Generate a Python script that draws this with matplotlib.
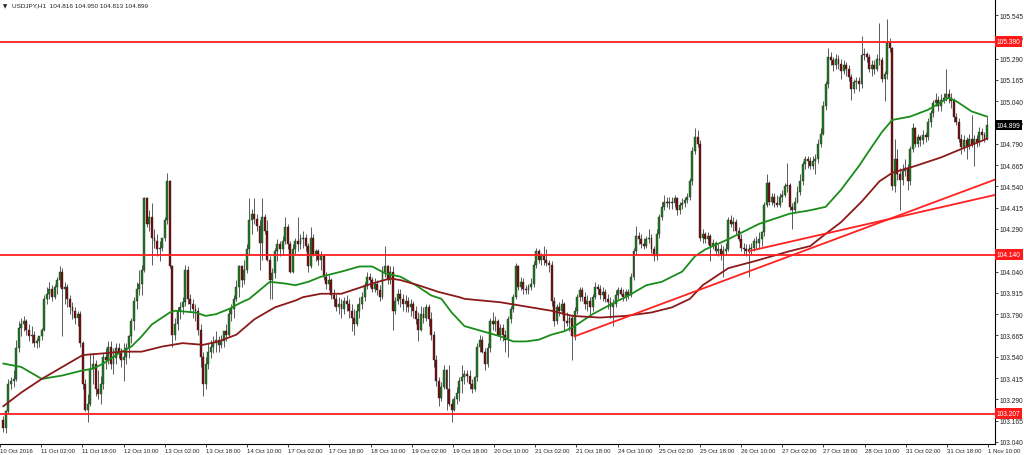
import numpy as np
import matplotlib
matplotlib.use("Agg")
import matplotlib.pyplot as plt

plt.rcParams['font.family'] = ['Liberation Sans', 'DejaVu Sans']

# USDJPY H1, 10 Oct 2016 - 1 Nov 2016
first_open = 103.17
closes = [
    103.12, 103.22, 103.38, 103.40, 103.41, 103.59, 103.71, 103.73, 103.75, 103.70, 103.66, 103.67, 103.62, 103.63, 103.66, 103.70,
    103.88, 103.91, 103.94, 103.89, 103.95, 103.99, 104.04, 103.94, 103.95, 103.88, 103.83, 103.81, 103.77, 103.79, 103.62, 103.38,
    103.23, 103.26, 103.47, 103.50, 103.35, 103.32, 103.38, 103.54, 103.52, 103.60, 103.50, 103.53, 103.59, 103.56, 103.52, 103.54,
    103.59, 103.66, 103.75, 103.87, 103.94, 103.97, 104.05, 104.47, 104.32, 104.36, 104.24, 104.22, 104.17, 104.18, 104.24, 104.34,
    104.57, 104.07, 103.67, 103.73, 103.81, 103.83, 103.86, 104.05, 103.88, 103.85, 103.82, 103.81, 103.70, 103.54, 103.38, 103.50,
    103.57, 103.60, 103.62, 103.64, 103.61, 103.63, 103.69, 103.67, 103.79, 103.82, 103.88, 103.95, 104.07, 103.99, 104.05, 104.17,
    104.34, 104.38, 104.35, 104.31, 104.21, 104.36, 104.28, 104.11, 103.99, 104.03, 104.16, 104.20, 104.17, 104.22, 104.30, 104.20,
    104.04, 104.17, 104.22, 104.20, 104.23, 104.24, 104.19, 104.07, 104.24, 104.14, 104.16, 104.11, 104.13, 104.01, 103.97, 103.99,
    103.90, 103.88, 103.83, 103.85, 103.82, 103.87, 103.85, 103.81, 103.77, 103.73, 103.81, 103.85, 103.89, 103.96, 104.01, 103.99,
    103.94, 103.97, 103.93, 103.89, 104.04, 104.07, 103.99, 104.04, 103.81, 103.87, 103.91, 103.88, 103.85, 103.87, 103.83, 103.85,
    103.81, 103.76, 103.70, 103.79, 103.77, 103.83, 103.76, 103.67, 103.52, 103.40, 103.30, 103.36, 103.46, 103.35, 103.26, 103.23,
    103.29, 103.33, 103.40, 103.42, 103.44, 103.43, 103.38, 103.35, 103.42, 103.60, 103.64, 103.57, 103.50, 103.59, 103.75, 103.73,
    103.75, 103.67, 103.71, 103.67, 103.64, 103.76, 103.82, 103.89, 104.07, 103.95, 103.98, 103.94, 103.93, 103.95, 103.97, 104.08,
    104.16, 104.11, 104.13, 104.11, 104.09, 104.08, 103.87, 103.75, 103.83, 103.81, 103.85, 103.75, 103.74, 103.77, 103.66, 103.81,
    103.89, 103.93, 103.89, 103.85, 103.87, 103.83, 103.89, 103.95, 103.94, 103.90, 103.92, 103.88, 103.86, 103.83, 103.85, 103.90,
    103.93, 103.91, 103.89, 103.92, 103.90, 104.01, 104.16, 104.25, 104.23, 104.20, 104.19, 104.23, 104.24, 104.17, 104.13, 104.26,
    104.36, 104.42, 104.45, 104.44, 104.45, 104.44, 104.47, 104.40, 104.43, 104.44, 104.46, 104.48, 104.57, 104.75, 104.83, 104.79,
    104.24, 104.26, 104.23, 104.25, 104.19, 104.21, 104.16, 104.17, 104.14, 104.16, 104.17, 104.34, 104.32, 104.33, 104.28, 104.23,
    104.18, 104.17, 104.16, 104.17, 104.18, 104.22, 104.21, 104.23, 104.27, 104.43, 104.56, 104.45, 104.48, 104.44, 104.43, 104.48,
    104.49, 104.54, 104.55, 104.42, 104.40, 104.45, 104.51, 104.57, 104.67, 104.70, 104.69, 104.66, 104.69, 104.70, 104.79, 104.85,
    105.01, 105.14, 105.30, 105.28, 105.25, 105.29, 105.26, 105.22, 105.25, 105.23, 105.18, 105.11, 105.15, 105.16, 105.14, 105.31,
    105.32, 105.30, 105.23, 105.25, 105.23, 105.29, 105.28, 105.17, 105.20, 105.38, 105.35, 104.54, 104.70, 104.61, 104.58, 104.63,
    104.65, 104.57, 104.76, 104.88, 104.79, 104.83, 104.81, 104.84, 104.83, 104.92, 104.97, 105.03, 105.05, 105.01, 105.05, 105.06,
    105.08, 105.06, 105.04, 104.95, 104.92, 104.82, 104.77, 104.81, 104.78, 104.82, 104.79, 104.82, 104.80, 104.86, 104.84, 104.816,
    104.899,
]
highs = [
    103.19, 103.23, 103.41, 103.42, 103.46, 103.64, 103.75, 103.77, 103.78, 103.76, 103.73, 103.72, 103.69, 103.65, 103.66, 103.71,
    103.90, 103.95, 103.98, 103.96, 103.97, 104.01, 104.07, 104.06, 103.98, 103.97, 103.90, 103.86, 103.83, 103.81, 103.81, 103.63,
    103.41, 103.32, 103.56, 103.56, 103.52, 103.46, 103.43, 103.56, 103.59, 103.63, 103.63, 103.59, 103.62, 103.62, 103.59, 103.62,
    103.62, 103.67, 103.77, 103.89, 103.98, 104.05, 104.08, 104.48, 104.48, 104.40, 104.44, 104.29, 104.26, 104.22, 104.24, 104.36,
    104.62, 104.58, 104.08, 103.77, 103.83, 103.86, 103.89, 104.08, 104.07, 103.91, 103.88, 103.85, 103.83, 103.73, 103.57, 103.54,
    103.62, 103.64, 103.66, 103.69, 103.66, 103.67, 103.69, 103.73, 103.82, 103.85, 103.90, 103.99, 104.08, 104.08, 104.11, 104.20,
    104.47, 104.41, 104.47, 104.38, 104.34, 104.47, 104.38, 104.34, 104.13, 104.06, 104.18, 104.23, 104.22, 104.25, 104.36, 104.32,
    104.22, 104.20, 104.24, 104.36, 104.26, 104.28, 104.26, 104.21, 104.30, 104.26, 104.17, 104.17, 104.16, 104.14, 104.04, 104.02,
    104.00, 103.94, 103.91, 103.89, 103.88, 103.89, 103.90, 103.88, 103.85, 103.82, 103.85, 103.89, 103.92, 103.98, 104.04, 104.03,
    104.01, 104.00, 103.99, 103.96, 104.07, 104.19, 104.08, 104.07, 104.07, 103.89, 103.94, 103.94, 103.91, 103.90, 103.89, 103.88,
    103.87, 103.84, 103.80, 103.84, 103.83, 103.85, 103.85, 103.80, 103.69, 103.55, 103.42, 103.39, 103.49, 103.47, 103.49, 103.29,
    103.31, 103.36, 103.42, 103.49, 103.46, 103.46, 103.46, 103.41, 103.43, 103.62, 103.67, 103.66, 103.59, 103.62, 103.77, 103.80,
    103.78, 103.76, 103.73, 103.73, 103.70, 103.78, 103.84, 103.91, 104.09, 104.08, 104.01, 104.00, 103.96, 103.97, 104.00, 104.10,
    104.18, 104.17, 104.15, 104.19, 104.17, 104.11, 104.10, 103.89, 103.85, 103.86, 103.88, 103.86, 103.80, 103.79, 103.79, 103.83,
    103.91, 103.95, 103.95, 103.92, 103.90, 103.89, 103.91, 103.98, 103.97, 103.96, 103.95, 103.94, 103.91, 103.89, 103.88, 103.93,
    103.95, 103.95, 103.94, 103.94, 103.94, 104.03, 104.18, 104.31, 104.27, 104.26, 104.24, 104.25, 104.29, 104.26, 104.19, 104.29,
    104.38, 104.45, 104.49, 104.48, 104.48, 104.48, 104.49, 104.48, 104.45, 104.47, 104.48, 104.50, 104.59, 104.77, 104.88, 104.87,
    104.81, 104.29, 104.27, 104.27, 104.26, 104.23, 104.22, 104.20, 104.20, 104.19, 104.21, 104.36, 104.37, 104.36, 104.35, 104.30,
    104.26, 104.21, 104.20, 104.20, 104.21, 104.24, 104.25, 104.27, 104.28, 104.45, 104.61, 104.57, 104.50, 104.50, 104.49, 104.50,
    104.52, 104.56, 104.68, 104.56, 104.44, 104.48, 104.54, 104.61, 104.69, 104.72, 104.72, 104.71, 104.72, 104.73, 104.82, 104.88,
    105.04, 105.16, 105.35, 105.33, 105.30, 105.32, 105.31, 105.29, 105.28, 105.27, 105.25, 105.20, 105.17, 105.18, 105.18, 105.42,
    105.35, 105.33, 105.32, 105.28, 105.28, 105.32, 105.50, 105.30, 105.22, 105.52, 105.41, 105.36, 104.82, 104.76, 104.65, 104.67,
    104.70, 104.67, 104.78, 104.91, 104.89, 104.85, 104.84, 104.87, 104.86, 104.94, 104.99, 105.05, 105.09, 105.07, 105.08, 105.09,
    105.23, 105.11, 105.09, 105.06, 104.97, 104.94, 104.85, 104.84, 104.83, 104.85, 104.96, 104.84, 104.84, 104.89, 104.88, 104.86,
    104.950,
]
lows = [
    103.10, 103.09, 103.21, 103.35, 103.36, 103.40, 103.57, 103.66, 103.69, 103.67, 103.63, 103.62, 103.60, 103.59, 103.60, 103.64,
    103.69, 103.85, 103.88, 103.87, 103.88, 103.91, 103.95, 103.66, 103.85, 103.83, 103.79, 103.76, 103.73, 103.72, 103.60, 103.35,
    103.22, 103.16, 103.25, 103.38, 103.31, 103.29, 103.26, 103.35, 103.47, 103.50, 103.47, 103.44, 103.50, 103.53, 103.48, 103.40,
    103.50, 103.53, 103.62, 103.70, 103.82, 103.90, 103.90, 104.04, 104.30, 104.28, 104.08, 104.18, 104.13, 104.10, 104.16, 104.22,
    104.32, 104.06, 103.60, 103.64, 103.70, 103.76, 103.79, 103.84, 103.85, 103.81, 103.77, 103.75, 103.67, 103.48, 103.31, 103.35,
    103.47, 103.53, 103.56, 103.57, 103.57, 103.59, 103.60, 103.63, 103.66, 103.75, 103.77, 103.87, 103.89, 103.95, 103.97, 104.03,
    104.14, 104.26, 104.32, 104.28, 104.05, 104.11, 104.26, 104.10, 103.88, 103.88, 104.00, 104.10, 104.13, 104.14, 104.20, 104.17,
    104.03, 104.03, 104.14, 104.16, 104.17, 104.18, 104.16, 104.04, 104.06, 104.13, 104.10, 104.08, 104.05, 103.99, 103.94, 103.93,
    103.88, 103.84, 103.81, 103.79, 103.77, 103.79, 103.81, 103.77, 103.69, 103.67, 103.72, 103.77, 103.82, 103.87, 103.94, 103.95,
    103.92, 103.92, 103.90, 103.87, 103.88, 104.01, 103.97, 103.97, 103.70, 103.79, 103.85, 103.83, 103.81, 103.80, 103.80, 103.78,
    103.77, 103.73, 103.63, 103.69, 103.74, 103.75, 103.72, 103.64, 103.48, 103.37, 103.25, 103.28, 103.35, 103.23, 103.25, 103.16,
    103.22, 103.26, 103.28, 103.33, 103.38, 103.39, 103.35, 103.33, 103.34, 103.40, 103.57, 103.56, 103.46, 103.48, 103.57, 103.70,
    103.69, 103.66, 103.64, 103.63, 103.57, 103.54, 103.74, 103.80, 103.88, 103.93, 103.93, 103.91, 103.91, 103.91, 103.93, 103.95,
    104.06, 104.09, 104.08, 104.08, 104.07, 104.04, 103.84, 103.72, 103.73, 103.78, 103.79, 103.70, 103.72, 103.69, 103.52, 103.64,
    103.79, 103.87, 103.87, 103.82, 103.81, 103.79, 103.81, 103.88, 103.91, 103.88, 103.87, 103.86, 103.82, 103.77, 103.72, 103.83,
    103.88, 103.90, 103.87, 103.87, 103.88, 103.89, 103.99, 104.14, 104.20, 104.18, 104.17, 104.18, 104.21, 104.15, 104.10, 104.11,
    104.24, 104.34, 104.40, 104.42, 104.41, 104.41, 104.42, 104.37, 104.38, 104.41, 104.42, 104.44, 104.46, 104.55, 104.73, 104.77,
    104.22, 104.21, 104.21, 104.20, 104.10, 104.17, 104.14, 104.13, 104.11, 104.01, 104.14, 104.16, 104.30, 104.28, 104.26, 104.22,
    104.16, 104.14, 104.13, 104.01, 104.14, 104.16, 104.17, 104.18, 104.19, 104.25, 104.42, 104.43, 104.43, 104.42, 104.42, 104.42,
    104.45, 104.48, 104.51, 104.40, 104.29, 104.39, 104.44, 104.49, 104.55, 104.64, 104.65, 104.64, 104.64, 104.61, 104.68, 104.77,
    104.84, 104.99, 105.12, 105.25, 105.22, 105.23, 105.23, 105.17, 105.20, 105.19, 105.16, 105.05, 105.09, 105.11, 105.10, 105.12,
    105.28, 105.27, 105.21, 105.19, 105.20, 105.22, 105.25, 105.15, 105.04, 105.17, 105.33, 104.52, 104.51, 104.58, 104.40, 104.55,
    104.60, 104.52, 104.55, 104.74, 104.77, 104.77, 104.78, 104.79, 104.80, 104.81, 104.89, 104.95, 105.01, 104.98, 104.98, 105.03,
    105.04, 105.03, 105.00, 104.92, 104.90, 104.80, 104.73, 104.75, 104.70, 104.76, 104.77, 104.66, 104.77, 104.78, 104.82, 104.80,
    104.813,
]

x_labels = ['10 Oct 2016', '11 Oct 02:00', '11 Oct 18:00', '12 Oct 10:00', '13 Oct 02:00',
            '13 Oct 18:00', '14 Oct 10:00', '17 Oct 02:00', '17 Oct 18:00', '18 Oct 10:00',
            '19 Oct 02:00', '19 Oct 18:00', '20 Oct 10:00', '21 Oct 02:00', '21 Oct 18:00',
            '24 Oct 10:00', '25 Oct 02:00', '25 Oct 18:00', '26 Oct 10:00', '27 Oct 02:00',
            '27 Oct 18:00', '28 Oct 10:00', '31 Oct 02:00', '31 Oct 18:00', '1 Nov 10:00']
y_labels = ['103.040', '103.165', '103.290', '103.415', '103.540', '103.665', '103.790',
            '103.915', '104.040', '104.165', '104.290', '104.415', '104.540', '104.665',
            '104.790', '104.915', '105.040', '105.165', '105.290', '105.415', '105.545']

# moving averages, read at sampled bars
ma_fast_bar = [0, 7, 15, 23, 31, 35, 39, 45, 50, 54, 58, 62, 65, 67, 75, 79, 83, 88, 93, 96,
               104, 110, 114, 119, 124, 132, 139, 144, 149, 155, 161, 167, 171, 175, 180, 187,
               194, 199, 204, 209, 214, 219, 223, 230, 235, 240, 243, 251, 257, 261, 265, 270,
               274, 283, 295, 307, 315, 321, 327, 334, 338, 343, 347, 354, 361, 369, 372, 378, 384]
ma_fast = [103.50, 103.48, 103.41, 103.43, 103.46, 103.47, 103.50, 103.56, 103.60, 103.66, 103.73,
           103.77, 103.80, 103.81, 103.80, 103.78, 103.79, 103.82, 103.86, 103.88, 103.98, 103.97,
           103.96, 103.98, 104.01, 104.04, 104.07, 104.07, 104.03, 104.01, 103.96, 103.90, 103.88,
           103.80, 103.72, 103.69, 103.66, 103.63, 103.63, 103.64, 103.67, 103.69, 103.72, 103.79,
           103.83, 103.87, 103.89, 103.96, 103.98, 104.01, 104.04, 104.13, 104.17, 104.23, 104.32,
           104.38, 104.40, 104.42, 104.52, 104.66, 104.75, 104.86, 104.93, 104.95, 104.99, 105.06,
           105.04, 104.98, 104.95]
ma_slow_bar = [0, 7, 15, 23, 31, 39, 46, 54, 62, 70, 78, 84, 91, 98, 106, 114, 117, 124, 132,
               136, 144, 151, 155, 162, 170, 178, 180, 194, 206, 214, 222, 233, 243, 253, 261,
               268, 273, 283, 293, 307, 315, 320, 327, 335, 342, 347, 356, 366, 374, 384]
ma_slow = [103.25, 103.33, 103.41, 103.48, 103.55, 103.56, 103.57, 103.57, 103.60, 103.62, 103.61,
           103.63, 103.67, 103.76, 103.83, 103.87, 103.89, 103.91, 103.91, 103.93, 103.97, 104.00,
           103.99, 103.96, 103.92, 103.89, 103.88, 103.86, 103.83, 103.81, 103.78, 103.77, 103.78,
           103.80, 103.83, 103.88, 103.96, 104.06, 104.10, 104.16, 104.19, 104.25, 104.33, 104.45,
           104.57, 104.62, 104.66, 104.71, 104.76, 104.82]

h_levels = [105.390, 104.140, 103.207]
trend_a = ([223, 387.1], [103.66, 104.58])
trend_b = ([291, 387.1], [104.16, 104.49])
last_price = 104.899

opens = [first_open] + closes[:-1]
n = len(closes)
idx = np.arange(n)
o = np.array(opens)
c = np.array(closes)
h = np.array(highs)
l = np.array(lows)

fig = plt.figure(figsize=(10.24, 4.56), dpi=100)
ax = fig.add_axes([0, 11 / 456, 995 / 1024, 445 / 456])

ax.vlines(idx, l, h, color='#5a5a5a', lw=0.7, zorder=2)
up = c >= o
body = np.maximum(np.abs(c - o), 0.004)
ax.bar(idx[up], body[up], bottom=np.minimum(o, c)[up], width=0.75,
       color='#1c7f1c', edgecolor='#2a2a2a', lw=0.3, zorder=3)
ax.bar(idx[~up], body[~up], bottom=np.minimum(o, c)[~up], width=0.75,
       color='#7d0a0a', edgecolor='#2a2a2a', lw=0.3, zorder=3)

ax.plot(ma_fast_bar, ma_fast, color='#1a8c1a', lw=1.3, zorder=4)
ax.plot(ma_slow_bar, ma_slow, color='#8b1a1a', lw=1.3, zorder=4)

for lv in h_levels:
    ax.axhline(lv, color='#ff2020', lw=1.3, zorder=5)
ax.plot(*trend_a, color='#ff2020', lw=1.3, zorder=5)
ax.plot(*trend_b, color='#ff2020', lw=1.3, zorder=5)

ax.set_xlim(-0.58, 387.1)
ax.set_ylim(103.028, 105.640)

ax.spines['left'].set_visible(False)
ax.spines['top'].set_visible(False)
ax.spines['right'].set_linewidth(0.8)
ax.spines['bottom'].set_linewidth(0.8)

ax.yaxis.tick_right()
ax.set_yticks([float(s) for s in y_labels])
ax.set_yticklabels(y_labels)
ax.tick_params(axis='y', length=2, width=0.6, pad=1.5, labelsize=4.8, colors='#222222')

xt = [16.07 * k - 1.3 for k in range(len(x_labels))]
ax.set_xticks(xt)
ax.set_xticklabels(x_labels, ha='left')
ax.tick_params(axis='x', length=2.5, width=0.6, pad=0.5, labelsize=4.3, colors='#222222')

tr = ax.get_yaxis_transform()
for lv in h_levels:
    ax.text(1.002, lv, '%.3f' % lv, transform=tr, ha='left', va='center', fontsize=4.8,
            color='white', clip_on=False, zorder=10,
            bbox=dict(boxstyle='square,pad=0.25', fc='#ff1a1a', ec='none'))
ax.text(1.002, last_price, '%.3f' % last_price, transform=tr, ha='left', va='center', fontsize=4.8,
        color='white', clip_on=False, zorder=10,
        bbox=dict(boxstyle='square,pad=0.25', fc='black', ec='none'))

fig.text(0.003, 0.991, '\u25bc', fontsize=4, va='top', ha='left', color='#222222',
         family=['DejaVu Sans'])
fig.text(0.012, 0.992, 'USDJPY,H1  104.816 104.950 104.813 104.899', fontsize=4.6,
         va='top', ha='left', color='#222222')

fig.savefig('out.png', dpi=100)
